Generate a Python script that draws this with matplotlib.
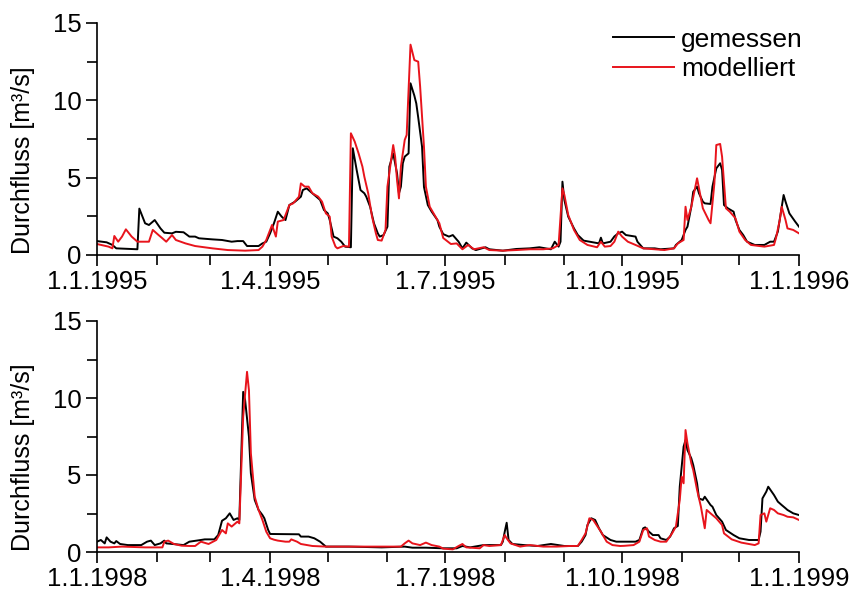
import pandas as pd
import matplotlib
matplotlib.use("Agg")
import matplotlib.pyplot as plt
import matplotlib.dates as mdates
from matplotlib.ticker import FuncFormatter, MultipleLocator

plt.rcParams['font.family'] = ['Liberation Sans', 'DejaVu Sans']

# Tage seit 1.1. und Abfluss [m3/s]
days_gem95 = [0, 5, 8, 10, 20, 21, 22, 25, 27, 30, 33, 35, 39, 41, 45, 48, 51, 53, 60, 65,
              70, 73, 76, 78, 84, 86, 88, 90, 92, 94, 96, 98, 100, 103, 106, 107, 109, 112, 114, 116,
              118, 120, 121, 123, 125, 127, 129, 132, 133, 135, 137, 139, 140, 142, 144, 146, 147, 149, 151, 152,
              154, 156, 157, 158, 159, 160, 162, 163, 165, 166, 167, 169, 170, 172, 174, 177, 178, 180, 183, 185,
              188, 190, 192, 195, 197, 202, 204, 211, 218, 225, 230, 236, 238, 240, 241, 242, 243, 245, 248, 250,
              253, 256, 261, 262, 263, 267, 269, 271, 273, 275, 280, 281, 284, 290, 293, 300, 301, 304, 306, 307,
              309, 310, 312, 313, 315, 316, 319, 320, 322, 324, 325, 326, 328, 331, 332, 334, 336, 338, 342, 347,
              350, 352, 354, 357, 358, 360, 363, 365]
q_gem95 = [0.9, 0.82, 0.65, 0.43, 0.37, 0.37, 3.0, 2.05, 1.94, 2.26, 1.72, 1.44, 1.4, 1.5, 1.47, 1.19, 1.19, 1.08, 1.01, 0.97,
           0.86, 0.9, 0.9, 0.58, 0.58, 0.75, 0.86, 1.4, 2.05, 2.8, 2.48, 2.26, 3.23, 3.45, 3.77, 4.2, 4.31, 3.99, 3.77, 3.56,
           2.91, 2.69, 2.26, 1.19, 1.08, 0.86, 0.54, 0.5, 6.9, 5.5, 4.2, 3.99, 3.77, 3.12, 2.05, 1.4, 1.19, 1.29, 1.83, 5.71,
           6.57, 5.28, 3.99, 4.42, 5.93, 6.36, 6.57, 11.1, 10.3, 9.8, 8.9, 7.0, 4.4, 3.23, 2.8, 2.26, 1.83, 1.35, 1.19, 1.29,
           0.86, 0.43, 0.8, 0.43, 0.32, 0.5, 0.37, 0.28, 0.39, 0.43, 0.5, 0.37, 0.86, 0.54, 0.86, 4.74, 3.56, 2.48, 1.72, 1.29,
           0.93, 0.86, 0.75, 1.12, 0.75, 0.86, 1.2, 1.4, 1.51, 1.29, 1.19, 0.86, 0.43, 0.43, 0.37, 0.43, 0.65, 0.97, 1.62, 1.83,
           3.12, 4.09, 4.42, 3.99, 3.45, 3.34, 3.3, 4.42, 5.6, 5.93, 5.5, 3.23, 3.02, 2.8, 2.26, 1.62, 1.29, 0.86, 0.65, 0.65,
           0.86, 0.86, 1.51, 3.88, 3.45, 2.69, 2.16, 1.83]

days_mod95 = [0, 6, 8, 9, 11, 13, 15, 18, 21, 27, 29, 32, 34, 36, 39, 41, 46, 51, 60, 68,
              77, 84, 86, 88, 91, 93, 94, 97, 100, 102, 105, 106, 108, 110, 112, 115, 117, 119, 121, 122,
              124, 125, 128, 131, 132, 134, 136, 138, 139, 141, 143, 145, 146, 148, 150, 151, 154, 155, 156, 157,
              158, 160, 161, 163, 165, 167, 168, 170, 171, 173, 176, 178, 180, 184, 187, 190, 193, 196, 201, 204,
              211, 218, 225, 232, 237, 240, 242, 243, 245, 248, 251, 255, 260, 262, 264, 267, 269, 271, 273, 276,
              280, 284, 290, 295, 300, 302, 305, 306, 307, 309, 312, 313, 315, 318, 319, 321, 322, 324, 325, 327,
              329, 332, 334, 337, 340, 347, 352, 353, 355, 356, 358, 359, 362, 365]
q_mod95 = [0.71, 0.54, 0.43, 1.23, 0.86, 1.19, 1.66, 1.19, 0.86, 0.86, 1.62, 1.29, 1.08, 0.86, 1.29, 0.97, 0.75, 0.58, 0.43, 0.32,
           0.28, 0.32, 0.54, 0.97, 1.94, 1.19, 2.16, 2.26, 3.23, 3.34, 3.77, 4.63, 4.42, 4.42, 3.99, 3.77, 3.45, 2.69, 2.48, 1.19,
           0.54, 0.43, 0.58, 0.54, 7.87, 7.33, 6.57, 5.71, 5.06, 3.99, 2.48, 1.4, 0.97, 0.93, 1.62, 4.42, 7.11, 6.36, 4.85, 3.66,
           5.71, 7.44, 7.76, 13.6, 12.6, 12.5, 10.9, 7.0, 4.42, 3.12, 2.48, 2.05, 1.1, 0.71, 0.75, 0.37, 0.65, 0.37, 0.5, 0.32,
           0.28, 0.32, 0.37, 0.37, 0.43, 0.65, 4.31, 3.88, 2.59, 1.62, 0.97, 0.65, 0.5, 0.86, 0.54, 0.58, 0.86, 1.51, 1.19, 0.86,
           0.65, 0.43, 0.37, 0.32, 0.43, 0.75, 0.97, 3.12, 2.26, 3.12, 4.96, 4.31, 3.02, 2.26, 2.05, 4.63, 7.11, 7.18, 6.36, 3.02,
           2.8, 2.37, 1.51, 0.97, 0.65, 0.54, 0.65, 1.08, 2.26, 3.12, 2.26, 1.72, 1.62, 1.4]

days_gem98 = [0, 2, 4, 5, 7, 9, 10, 12, 16, 23, 26, 28, 30, 33, 35, 36, 41, 45, 48, 54,
              56, 61, 63, 65, 67, 69, 71, 73, 74, 76, 77, 79, 80, 82, 84, 86, 87, 89, 90, 105,
              106, 110, 113, 116, 119, 131, 148, 160, 164, 171, 180, 187, 190, 194, 201, 210, 211, 212, 213, 214,
              216, 222, 229, 236, 243, 250, 252, 254, 255, 257, 259, 261, 263, 267, 270, 280, 282, 284, 285, 287,
              289, 292, 293, 296, 298, 300, 302, 303, 305, 306, 307, 309, 310, 312, 313, 315, 316, 319, 320, 322,
              325, 327, 331, 334, 339, 344, 345, 346, 348, 349, 352, 354, 356, 358, 359, 362, 365]
q_gem98 = [0.67, 0.78, 0.56, 0.95, 0.67, 0.56, 0.71, 0.52, 0.45, 0.45, 0.67, 0.74, 0.45, 0.56, 0.74, 0.56, 0.5, 0.45, 0.67, 0.78,
           0.82, 0.82, 1.1, 2.03, 2.19, 2.51, 2.08, 2.19, 2.08, 10.4, 9.87, 7.49, 5.11, 3.38, 2.73, 2.4, 2.19, 1.43, 1.17, 1.15,
           1.0, 1.0, 0.89, 0.67, 0.35, 0.35, 0.3, 0.35, 0.28, 0.28, 0.24, 0.24, 0.39, 0.3, 0.45, 0.45, 0.67, 1.32, 1.9, 0.78,
           0.52, 0.45, 0.39, 0.52, 0.39, 0.39, 0.67, 1.1, 1.75, 2.19, 2.08, 1.54, 1.1, 0.78, 0.67, 0.67, 0.78, 1.54, 1.6, 1.32,
           1.1, 1.1, 0.89, 0.78, 1.0, 1.54, 1.69, 4.24, 6.84, 7.27, 6.62, 6.08, 5.65, 4.46, 3.48, 3.38, 3.59, 3.05, 2.94, 2.4,
           1.97, 1.43, 1.1, 0.89, 0.78, 0.78, 1.32, 3.48, 3.92, 4.24, 3.7, 3.27, 3.05, 2.84, 2.73, 2.51, 2.4]

days_mod98 = [0, 6, 13, 25, 34, 35, 37, 40, 44, 48, 51, 54, 58, 62, 65, 67, 68, 70, 73, 74,
              76, 78, 79, 80, 82, 84, 86, 88, 90, 92, 94, 98, 100, 101, 104, 106, 112, 119, 133, 148,
              158, 160, 162, 164, 168, 171, 174, 178, 180, 185, 188, 190, 192, 199, 201, 204, 210, 212, 213, 215,
              220, 225, 232, 239, 246, 250, 252, 254, 256, 258, 262, 265, 268, 272, 274, 279, 282, 284, 286, 287,
              290, 293, 296, 299, 301, 303, 304, 305, 306, 307, 309, 310, 312, 314, 316, 317, 319, 322, 325, 326,
              330, 335, 342, 344, 345, 347, 348, 350, 352, 354, 357, 359, 362, 365]
q_mod98 = [0.3, 0.3, 0.35, 0.3, 0.3, 0.67, 0.74, 0.52, 0.41, 0.39, 0.39, 0.67, 0.52, 0.78, 1.43, 1.21, 1.86, 1.65, 1.97, 1.86,
           8.79, 11.7, 10.5, 6.41, 3.59, 2.73, 2.08, 1.32, 0.89, 0.8, 0.74, 0.67, 0.67, 0.82, 0.67, 0.52, 0.39, 0.35, 0.35, 0.35,
           0.35, 0.56, 0.74, 0.56, 0.45, 0.61, 0.45, 0.35, 0.22, 0.17, 0.39, 0.52, 0.3, 0.24, 0.45, 0.39, 0.45, 1.1, 0.89, 0.56,
           0.35, 0.45, 0.35, 0.35, 0.39, 0.39, 0.78, 1.21, 2.19, 2.08, 1.32, 0.67, 0.45, 0.39, 0.4, 0.45, 0.67, 1.43, 1.54, 1.0,
           0.78, 0.67, 0.67, 1.21, 1.65, 3.38, 4.89, 4.46, 7.92, 7.06, 5.76, 5.32, 4.03, 2.94, 1.54, 2.73, 2.51, 2.19, 1.75, 1.21,
           0.82, 0.61, 0.45, 0.56, 2.4, 2.51, 1.97, 2.84, 2.73, 2.51, 2.4, 2.29, 2.25, 2.08]

panels = [
    (1995, days_gem95, q_gem95, days_mod95, q_mod95),
    (1998, days_gem98, q_gem98, days_mod98, q_mod98),
]


def to_dates(year, days):
    return pd.Timestamp(f"{year}-01-01") + pd.to_timedelta(days, unit="D")


def fmt_date(x, pos):
    d = mdates.num2date(x)
    return f"{d.day}.{d.month}.{d.year}"


fig = plt.figure(figsize=(8.54, 6), dpi=100)
rects = [[0.1136, 0.575, 0.822, 0.3867], [0.1136, 0.08, 0.822, 0.385]]

for rect, (year, dg, qg, dm, qm) in zip(rects, panels):
    ax = fig.add_axes(rect)
    ax.plot(to_dates(year, dg), qg, color="black", lw=1.4, label="gemessen")
    ax.plot(to_dates(year, dm), qm, color="#e8141c", lw=1.4, label="modelliert")

    ax.set_xlim(pd.Timestamp(f"{year}-01-01"), pd.Timestamp(f"{year + 1}-01-01"))
    ax.set_ylim(0, 15)
    ax.xaxis.set_major_locator(mdates.MonthLocator(bymonth=[1, 4, 7, 10]))
    ax.xaxis.set_minor_locator(mdates.MonthLocator())
    ax.xaxis.set_major_formatter(FuncFormatter(fmt_date))
    ax.yaxis.set_major_locator(MultipleLocator(5))
    ax.yaxis.set_minor_locator(MultipleLocator(2.5))

    for s in ["top", "right"]:
        ax.spines[s].set_visible(False)
    for s in ["left", "bottom"]:
        ax.spines[s].set_linewidth(1.2)
    ax.tick_params(which="both", direction="out", width=1.2, labelsize=18.5, pad=3)
    ax.tick_params(which="major", length=8)
    ax.tick_params(which="minor", length=7)

    ax.set_ylabel("Durchfluss [m³/s]", fontsize=18)
    ax.yaxis.set_label_coords(-0.088, 0.41)

    if year == 1995:
        ax.legend(loc="upper right", bbox_to_anchor=(1.005, 0.98), frameon=False,
                  fontsize=19, handlelength=2.3, handletextpad=0.25,
                  labelspacing=0.2, borderpad=0, borderaxespad=0)

fig.savefig("out.png", dpi=100)
